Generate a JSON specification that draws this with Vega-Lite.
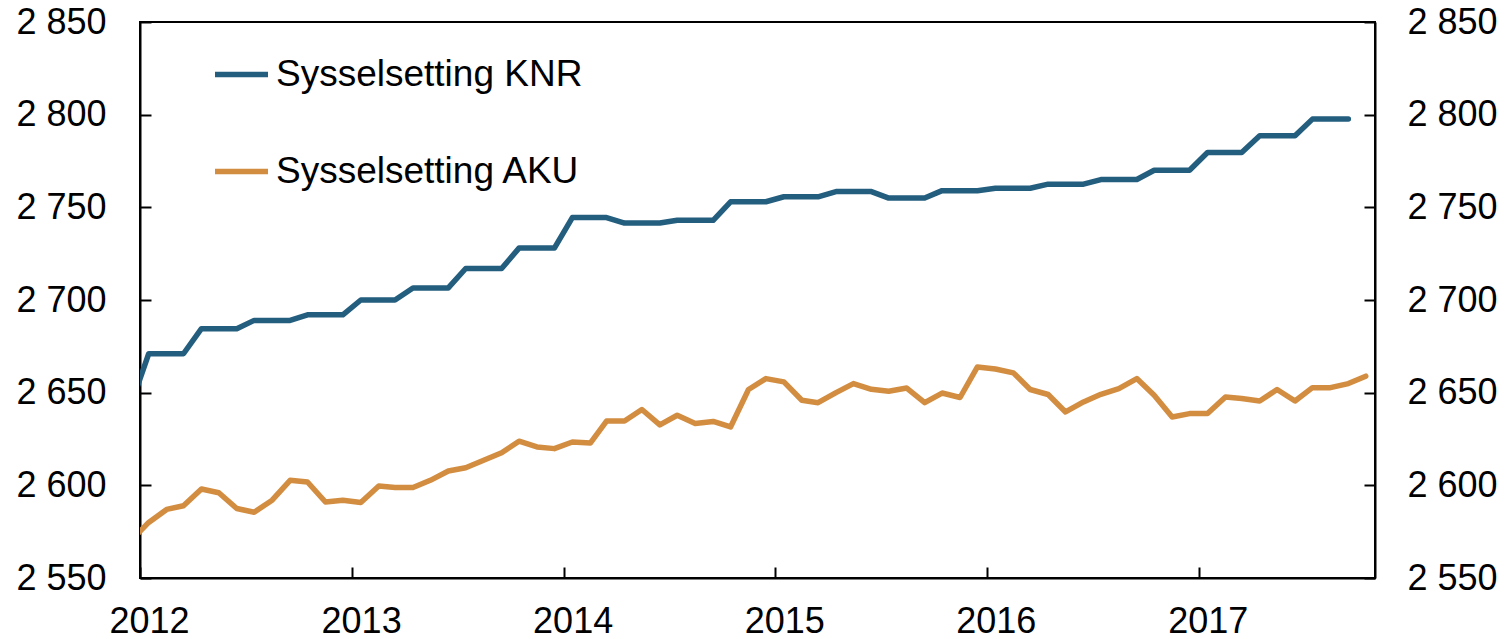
{
  "$schema": "https://vega.github.io/schema/vega-lite/v6.json",
  "width": 1235,
  "height": 556,
  "autosize": "none",
  "padding": {"left": 140, "top": 22, "right": 135, "bottom": 61},
  "background": "white",
  "config": {
    "font": "Liberation Sans",
    "view": {"stroke": "black", "strokeWidth": 2},
    "axis": {
      "domainColor": "black",
      "domainWidth": 2,
      "tickColor": "black",
      "tickWidth": 2,
      "tickSize": -11,
      "labelFont": "Liberation Sans",
      "labelFontSize": 36,
      "labelColor": "black",
      "grid": false,
      "title": null,
      "labelFlush": false,
      "labelOverlap": false,
      "labelBound": false
    }
  },
  "data": {
    "values": [
      {"date": "2011-12-16", "series": "Sysselsetting KNR", "value": 2643},
      {"date": "2012-01-16", "series": "Sysselsetting KNR", "value": 2671},
      {"date": "2012-02-16", "series": "Sysselsetting KNR", "value": 2671},
      {"date": "2012-03-16", "series": "Sysselsetting KNR", "value": 2671},
      {"date": "2012-04-16", "series": "Sysselsetting KNR", "value": 2684.5},
      {"date": "2012-05-16", "series": "Sysselsetting KNR", "value": 2684.5},
      {"date": "2012-06-16", "series": "Sysselsetting KNR", "value": 2684.5},
      {"date": "2012-07-16", "series": "Sysselsetting KNR", "value": 2689},
      {"date": "2012-08-16", "series": "Sysselsetting KNR", "value": 2689},
      {"date": "2012-09-16", "series": "Sysselsetting KNR", "value": 2689},
      {"date": "2012-10-16", "series": "Sysselsetting KNR", "value": 2692},
      {"date": "2012-11-16", "series": "Sysselsetting KNR", "value": 2692},
      {"date": "2012-12-16", "series": "Sysselsetting KNR", "value": 2692},
      {"date": "2013-01-16", "series": "Sysselsetting KNR", "value": 2700},
      {"date": "2013-02-16", "series": "Sysselsetting KNR", "value": 2700},
      {"date": "2013-03-16", "series": "Sysselsetting KNR", "value": 2700},
      {"date": "2013-04-16", "series": "Sysselsetting KNR", "value": 2706.5},
      {"date": "2013-05-16", "series": "Sysselsetting KNR", "value": 2706.5},
      {"date": "2013-06-16", "series": "Sysselsetting KNR", "value": 2706.5},
      {"date": "2013-07-16", "series": "Sysselsetting KNR", "value": 2717},
      {"date": "2013-08-16", "series": "Sysselsetting KNR", "value": 2717},
      {"date": "2013-09-16", "series": "Sysselsetting KNR", "value": 2717},
      {"date": "2013-10-16", "series": "Sysselsetting KNR", "value": 2728},
      {"date": "2013-11-16", "series": "Sysselsetting KNR", "value": 2728},
      {"date": "2013-12-16", "series": "Sysselsetting KNR", "value": 2728},
      {"date": "2014-01-16", "series": "Sysselsetting KNR", "value": 2744.5},
      {"date": "2014-02-16", "series": "Sysselsetting KNR", "value": 2744.5},
      {"date": "2014-03-16", "series": "Sysselsetting KNR", "value": 2744.5},
      {"date": "2014-04-16", "series": "Sysselsetting KNR", "value": 2741.5},
      {"date": "2014-05-16", "series": "Sysselsetting KNR", "value": 2741.5},
      {"date": "2014-06-16", "series": "Sysselsetting KNR", "value": 2741.5},
      {"date": "2014-07-16", "series": "Sysselsetting KNR", "value": 2743},
      {"date": "2014-08-16", "series": "Sysselsetting KNR", "value": 2743},
      {"date": "2014-09-16", "series": "Sysselsetting KNR", "value": 2743},
      {"date": "2014-10-16", "series": "Sysselsetting KNR", "value": 2753},
      {"date": "2014-11-16", "series": "Sysselsetting KNR", "value": 2753},
      {"date": "2014-12-16", "series": "Sysselsetting KNR", "value": 2753},
      {"date": "2015-01-16", "series": "Sysselsetting KNR", "value": 2755.7},
      {"date": "2015-02-16", "series": "Sysselsetting KNR", "value": 2755.7},
      {"date": "2015-03-16", "series": "Sysselsetting KNR", "value": 2755.7},
      {"date": "2015-04-16", "series": "Sysselsetting KNR", "value": 2758.5},
      {"date": "2015-05-16", "series": "Sysselsetting KNR", "value": 2758.5},
      {"date": "2015-06-16", "series": "Sysselsetting KNR", "value": 2758.5},
      {"date": "2015-07-16", "series": "Sysselsetting KNR", "value": 2755},
      {"date": "2015-08-16", "series": "Sysselsetting KNR", "value": 2755},
      {"date": "2015-09-16", "series": "Sysselsetting KNR", "value": 2755},
      {"date": "2015-10-16", "series": "Sysselsetting KNR", "value": 2759},
      {"date": "2015-11-16", "series": "Sysselsetting KNR", "value": 2759},
      {"date": "2015-12-16", "series": "Sysselsetting KNR", "value": 2759},
      {"date": "2016-01-16", "series": "Sysselsetting KNR", "value": 2760.3},
      {"date": "2016-02-16", "series": "Sysselsetting KNR", "value": 2760.3},
      {"date": "2016-03-16", "series": "Sysselsetting KNR", "value": 2760.3},
      {"date": "2016-04-16", "series": "Sysselsetting KNR", "value": 2762.5},
      {"date": "2016-05-16", "series": "Sysselsetting KNR", "value": 2762.5},
      {"date": "2016-06-16", "series": "Sysselsetting KNR", "value": 2762.5},
      {"date": "2016-07-16", "series": "Sysselsetting KNR", "value": 2765},
      {"date": "2016-08-16", "series": "Sysselsetting KNR", "value": 2765},
      {"date": "2016-09-16", "series": "Sysselsetting KNR", "value": 2765},
      {"date": "2016-10-16", "series": "Sysselsetting KNR", "value": 2770},
      {"date": "2016-11-16", "series": "Sysselsetting KNR", "value": 2770},
      {"date": "2016-12-16", "series": "Sysselsetting KNR", "value": 2770},
      {"date": "2017-01-16", "series": "Sysselsetting KNR", "value": 2779.6},
      {"date": "2017-02-16", "series": "Sysselsetting KNR", "value": 2779.6},
      {"date": "2017-03-16", "series": "Sysselsetting KNR", "value": 2779.6},
      {"date": "2017-04-16", "series": "Sysselsetting KNR", "value": 2788.6},
      {"date": "2017-05-16", "series": "Sysselsetting KNR", "value": 2788.6},
      {"date": "2017-06-16", "series": "Sysselsetting KNR", "value": 2788.6},
      {"date": "2017-07-16", "series": "Sysselsetting KNR", "value": 2797.6},
      {"date": "2017-08-16", "series": "Sysselsetting KNR", "value": 2797.6},
      {"date": "2017-09-16", "series": "Sysselsetting KNR", "value": 2797.6},

      {"date": "2011-12-16", "series": "Sysselsetting AKU", "value": 2570},
      {"date": "2012-01-16", "series": "Sysselsetting AKU", "value": 2580},
      {"date": "2012-02-16", "series": "Sysselsetting AKU", "value": 2587},
      {"date": "2012-03-16", "series": "Sysselsetting AKU", "value": 2589},
      {"date": "2012-04-16", "series": "Sysselsetting AKU", "value": 2598},
      {"date": "2012-05-16", "series": "Sysselsetting AKU", "value": 2596},
      {"date": "2012-06-16", "series": "Sysselsetting AKU", "value": 2587.5},
      {"date": "2012-07-16", "series": "Sysselsetting AKU", "value": 2585.5},
      {"date": "2012-08-16", "series": "Sysselsetting AKU", "value": 2592},
      {"date": "2012-09-16", "series": "Sysselsetting AKU", "value": 2602.7},
      {"date": "2012-10-16", "series": "Sysselsetting AKU", "value": 2601.8},
      {"date": "2012-11-16", "series": "Sysselsetting AKU", "value": 2591},
      {"date": "2012-12-16", "series": "Sysselsetting AKU", "value": 2592},
      {"date": "2013-01-16", "series": "Sysselsetting AKU", "value": 2590.7},
      {"date": "2013-02-16", "series": "Sysselsetting AKU", "value": 2599.6},
      {"date": "2013-03-16", "series": "Sysselsetting AKU", "value": 2598.8},
      {"date": "2013-04-16", "series": "Sysselsetting AKU", "value": 2598.8},
      {"date": "2013-05-16", "series": "Sysselsetting AKU", "value": 2602.7},
      {"date": "2013-06-16", "series": "Sysselsetting AKU", "value": 2607.7},
      {"date": "2013-07-16", "series": "Sysselsetting AKU", "value": 2609.5},
      {"date": "2013-08-16", "series": "Sysselsetting AKU", "value": 2613.5},
      {"date": "2013-09-16", "series": "Sysselsetting AKU", "value": 2617.6},
      {"date": "2013-10-16", "series": "Sysselsetting AKU", "value": 2623.8},
      {"date": "2013-11-16", "series": "Sysselsetting AKU", "value": 2620.7},
      {"date": "2013-12-16", "series": "Sysselsetting AKU", "value": 2619.8},
      {"date": "2014-01-16", "series": "Sysselsetting AKU", "value": 2623.4},
      {"date": "2014-02-16", "series": "Sysselsetting AKU", "value": 2622.8},
      {"date": "2014-03-16", "series": "Sysselsetting AKU", "value": 2634.7},
      {"date": "2014-04-16", "series": "Sysselsetting AKU", "value": 2634.7},
      {"date": "2014-05-16", "series": "Sysselsetting AKU", "value": 2640.9},
      {"date": "2014-06-16", "series": "Sysselsetting AKU", "value": 2632.6},
      {"date": "2014-07-16", "series": "Sysselsetting AKU", "value": 2637.8},
      {"date": "2014-08-16", "series": "Sysselsetting AKU", "value": 2633.4},
      {"date": "2014-09-16", "series": "Sysselsetting AKU", "value": 2634.5},
      {"date": "2014-10-16", "series": "Sysselsetting AKU", "value": 2631.5},
      {"date": "2014-11-16", "series": "Sysselsetting AKU", "value": 2651.7},
      {"date": "2014-12-16", "series": "Sysselsetting AKU", "value": 2657.6},
      {"date": "2015-01-16", "series": "Sysselsetting AKU", "value": 2655.8},
      {"date": "2015-02-16", "series": "Sysselsetting AKU", "value": 2645.9},
      {"date": "2015-03-16", "series": "Sysselsetting AKU", "value": 2644.6},
      {"date": "2015-04-16", "series": "Sysselsetting AKU", "value": 2650},
      {"date": "2015-05-16", "series": "Sysselsetting AKU", "value": 2654.9},
      {"date": "2015-06-16", "series": "Sysselsetting AKU", "value": 2651.8},
      {"date": "2015-07-16", "series": "Sysselsetting AKU", "value": 2650.8},
      {"date": "2015-08-16", "series": "Sysselsetting AKU", "value": 2652.5},
      {"date": "2015-09-16", "series": "Sysselsetting AKU", "value": 2644.6},
      {"date": "2015-10-16", "series": "Sysselsetting AKU", "value": 2649.8},
      {"date": "2015-11-16", "series": "Sysselsetting AKU", "value": 2647.4},
      {"date": "2015-12-16", "series": "Sysselsetting AKU", "value": 2663.9},
      {"date": "2016-01-16", "series": "Sysselsetting AKU", "value": 2662.8},
      {"date": "2016-02-16", "series": "Sysselsetting AKU", "value": 2660.7},
      {"date": "2016-03-16", "series": "Sysselsetting AKU", "value": 2651.7},
      {"date": "2016-04-16", "series": "Sysselsetting AKU", "value": 2649},
      {"date": "2016-05-16", "series": "Sysselsetting AKU", "value": 2639.6},
      {"date": "2016-06-16", "series": "Sysselsetting AKU", "value": 2645},
      {"date": "2016-07-16", "series": "Sysselsetting AKU", "value": 2649.1},
      {"date": "2016-08-16", "series": "Sysselsetting AKU", "value": 2652.2},
      {"date": "2016-09-16", "series": "Sysselsetting AKU", "value": 2657.6},
      {"date": "2016-10-16", "series": "Sysselsetting AKU", "value": 2648.6},
      {"date": "2016-11-16", "series": "Sysselsetting AKU", "value": 2636.9},
      {"date": "2016-12-16", "series": "Sysselsetting AKU", "value": 2638.7},
      {"date": "2017-01-16", "series": "Sysselsetting AKU", "value": 2638.7},
      {"date": "2017-02-16", "series": "Sysselsetting AKU", "value": 2647.7},
      {"date": "2017-03-16", "series": "Sysselsetting AKU", "value": 2646.8},
      {"date": "2017-04-16", "series": "Sysselsetting AKU", "value": 2645.5},
      {"date": "2017-05-16", "series": "Sysselsetting AKU", "value": 2651.7},
      {"date": "2017-06-16", "series": "Sysselsetting AKU", "value": 2645.5},
      {"date": "2017-07-16", "series": "Sysselsetting AKU", "value": 2652.7},
      {"date": "2017-08-16", "series": "Sysselsetting AKU", "value": 2652.7},
      {"date": "2017-09-16", "series": "Sysselsetting AKU", "value": 2654.9},
      {"date": "2017-10-16", "series": "Sysselsetting AKU", "value": 2658.9}
    ]
  },
  "encoding": {
    "x": {
      "field": "date",
      "type": "temporal",
      "scale": {
        "type": "utc",
        "domain": [
          {"year": 2012, "month": 1, "date": 1, "utc": true},
          {"year": 2017, "month": 11, "date": 1, "utc": true}
        ]
      },
      "axis": {
        "values": [
          {"year": 2012, "month": 1, "date": 1, "utc": true},
          {"year": 2013, "month": 1, "date": 1, "utc": true},
          {"year": 2014, "month": 1, "date": 1, "utc": true},
          {"year": 2015, "month": 1, "date": 1, "utc": true},
          {"year": 2016, "month": 1, "date": 1, "utc": true},
          {"year": 2017, "month": 1, "date": 1, "utc": true}
        ],
        "format": "%Y",
        "formatType": "utc",
        "labelOffset": 9,
        "labelPadding": 37,
        "labelAlign": "center",
        "labelBaseline": "top"
      }
    },
    "color": {
      "field": "series",
      "type": "nominal",
      "scale": {
        "domain": ["Sysselsetting KNR", "Sysselsetting AKU"],
        "range": ["#245E7F", "#D38D41"]
      },
      "legend": {
        "title": null,
        "orient": "none",
        "direction": "vertical",
        "legendX": 72,
        "legendY": 23,
        "padding": 0,
        "symbolType": "stroke",
        "symbolSize": 2809,
        "symbolStrokeWidth": 5.5,
        "labelFont": "Liberation Sans",
        "labelFontSize": 37,
        "labelColor": "black",
        "labelOffset": 5,
        "labelLimit": 0,
        "rowPadding": 49,
        "encoding": {"symbols": {"update": {"strokeCap": {"value": "round"}}}}
      }
    }
  },
  "layer": [
    {
      "transform": [{"filter": "datum.series === 'Sysselsetting KNR'"}],
      "mark": {"type": "line", "strokeWidth": 5.5, "strokeCap": "round", "strokeJoin": "round", "clip": true},
      "encoding": {
        "y": {
          "field": "value",
          "type": "quantitative",
          "scale": {"domain": [2550, 2850], "nice": false, "zero": false},
          "axis": {
            "orient": "left",
            "values": [2550, 2600, 2650, 2700, 2750, 2800, 2850],
            "labelExpr": "replace(format(datum.value, ','), ',', ' ')",
            "labelPadding": 45
          }
        }
      }
    },
    {
      "transform": [{"filter": "datum.series === 'Sysselsetting AKU'"}],
      "mark": {"type": "line", "strokeWidth": 5.5, "strokeCap": "round", "strokeJoin": "round", "clip": true},
      "encoding": {
        "y": {
          "field": "value",
          "type": "quantitative",
          "scale": {"domain": [2550, 2850], "nice": false, "zero": false},
          "axis": {
            "orient": "right",
            "values": [2550, 2600, 2650, 2700, 2750, 2800, 2850],
            "labelExpr": "replace(format(datum.value, ','), ',', ' ')",
            "labelPadding": 43
          }
        }
      }
    }
  ],
  "resolve": {"scale": {"y": "shared"}, "axis": {"y": "independent"}}
}
